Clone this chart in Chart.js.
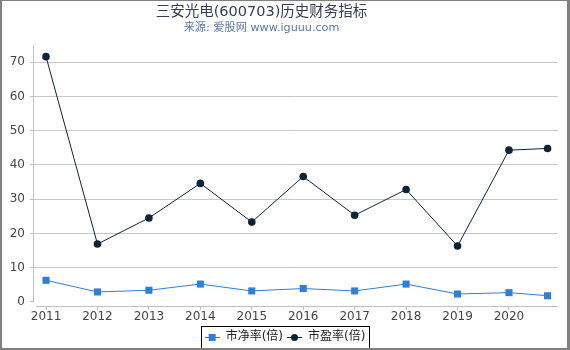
<!DOCTYPE html>
<html><head><meta charset="utf-8">
<script src="https://cdn.jsdelivr.net/npm/chart.js@4/dist/chart.umd.min.js"></script>
<style>html,body{margin:0;padding:0;background:#fff}#wrap{width:570px;height:350px;position:relative}</style>
</head><body><div id="wrap"><canvas id="c" width="570" height="350"></canvas></div>
<script>
const titleText = '三安光电(600703)历史财务指标';
const subtitleText = '来源: 爱股网 www.iguuu.com';
const seriesNames = ['市净率(倍)', '市盈率(倍)'];
const periods = [2011, 2012, 2013, 2014, 2015, 2016, 2017, 2018, 2019, 2020, 2020.75];
const pbValues = [6.3, 2.9, 3.4, 5.2, 3.2, 3.9, 3.2, 5.2, 2.3, 2.7, 1.8];
const peValues = [71.6, 16.9, 24.5, 34.6, 23.3, 36.6, 25.3, 32.8, 16.3, 44.3, 44.8];
const xTickLabels = [2011, 2012, 2013, 2014, 2015, 2016, 2017, 2018, 2019, 2020];
const yTickLabels = [0, 10, 20, 30, 40, 50, 60, 70];

const PB_COLOR = '#2f7ed8';
const PE_COLOR = '#0d233a';
const FONT = "'DejaVu Sans', 'Noto Sans CJK SC', sans-serif";
Chart.defaults.font.family = FONT;

function legendSymbol(color, shape) {
  const cv = document.createElement('canvas');
  cv.width = 15; cv.height = 10;
  const g = cv.getContext('2d');
  g.strokeStyle = color; g.lineWidth = 1;
  g.beginPath(); g.moveTo(0, 5.5); g.lineTo(15, 5.5); g.stroke();
  g.fillStyle = color;
  if (shape === 'rect') { g.fillRect(4, 2, 7, 7); }
  else { g.beginPath(); g.arc(7.5, 5.5, 3.5, 0, Math.PI * 2); g.fill(); }
  return cv;
}
const symbols = [legendSymbol(PB_COLOR, 'rect'), legendSymbol(PE_COLOR, 'circle')];

const decor = {
  id: 'decor',
  beforeDatasetsDraw(chart) {
    const g = chart.ctx, a = chart.chartArea, y = chart.scales.y;
    g.save();
    g.strokeStyle = '#c0c0c0'; g.lineWidth = 1;
    g.beginPath();
    g.moveTo(a.left + 0.5, a.top); g.lineTo(a.left + 0.5, Math.round(y.getPixelForValue(0)) + 0.5);
    g.moveTo(a.left + 3, Math.round(a.bottom) + 0.5); g.lineTo(a.right, Math.round(a.bottom) + 0.5);
    g.stroke();
    g.restore();
  },
  afterDraw(chart) {
    const g = chart.ctx;
    const hb = chart.legend.legendHitBoxes;
    g.save();
    g.textAlign = 'center'; g.textBaseline = 'middle';
    g.fillStyle = '#333e50';
    g.font = '14.5px ' + FONT;
    g.fillText(titleText, 261.5, 12);
    g.fillStyle = '#5a78a0';
    g.font = '11.2px ' + FONT;
    g.fillText(subtitleText, 261.5, 28.5);
    if (hb && hb.length) {
      let l = Infinity, r = -Infinity;
      hb.forEach(h => { l = Math.min(l, h.left); r = Math.max(r, h.left + h.width); });
      const cy = hb[0].top + hb[0].height / 2;
      g.strokeStyle = '#000'; g.lineWidth = 1;
      g.strokeRect(Math.round(l - 4) + 0.5, Math.round(cy - 11) + 0.5, Math.round(r - l + 7), 22);
    }
    g.fillStyle = '#808080';
    g.fillRect(0, 0, 570, 1);
    g.fillRect(0, 0, 2, 350);
    g.fillRect(567, 0, 3, 350);
    g.fillRect(0, 348, 570, 2);
    g.restore();
  }
};

new Chart(document.getElementById('c'), {
  type: 'line',
  data: {
    datasets: [
      { label: seriesNames[0], data: periods.map((p, i) => ({ x: p, y: pbValues[i] })),
        borderColor: PB_COLOR, backgroundColor: PB_COLOR, borderWidth: 1,
        pointStyle: 'rect', pointRadius: 5, pointBorderWidth: 0, tension: 0 },
      { label: seriesNames[1], data: periods.map((p, i) => ({ x: p, y: peValues[i] })),
        borderColor: PE_COLOR, backgroundColor: PE_COLOR, borderWidth: 1,
        pointStyle: 'circle', pointRadius: 3.8, pointBorderWidth: 0, tension: 0 }
    ]
  },
  options: {
    responsive: false, animation: false, devicePixelRatio: 1,
    layout: { padding: { left: 0, right: 0, top: 45, bottom: -3 } },
    plugins: {
      title: { display: false },
      subtitle: { display: false },
      legend: { position: 'bottom',
        labels: { usePointStyle: true, pointStyleWidth: 15, boxHeight: 10, padding: 4, color: '#222',
          font: { size: 12 },
          generateLabels: (chart) => chart.data.datasets.map((d, i) => ({
            text: d.label, pointStyle: symbols[i], fillStyle: 'transparent', strokeStyle: 'transparent',
            lineWidth: 0, fontColor: '#222', datasetIndex: i, hidden: false })) } },
      tooltip: { enabled: false }
    },
    scales: {
      x: { type: 'linear', min: 2010.747, max: 2020.953,
        afterBuildTicks: s => { s.ticks = xTickLabels.map(v => ({ value: v })); },
        afterFit: s => { s.height = 21; },
        grid: { drawOnChartArea: false, drawTicks: true, tickLength: 4, color: '#c0c0c0' },
        border: { display: false },
        ticks: { color: '#444', font: { size: 12 }, padding: 0, maxRotation: 0, autoSkip: false,
          callback: v => String(v) } },
      y: { min: -1.2, max: 75,
        afterBuildTicks: s => { s.ticks = yTickLabels.map(v => ({ value: v })); },
        afterFit: s => { s.width = 33; },
        grid: { color: c => (c.tick && c.tick.value === 0) ? 'rgba(0,0,0,0)' : '#c8c8c8',
          tickColor: '#c0c0c0', tickLength: 3 },
        border: { display: false },
        ticks: { color: '#444', padding: 5, font: { size: 12 }, callback: v => String(v) } },
      yRight: { position: 'right', min: 0, max: 1,
        afterFit: s => { s.width = 12; },
        grid: { display: false }, border: { display: false }, ticks: { display: false } }
    }
  },
  plugins: [decor]
});
</script></body></html>
